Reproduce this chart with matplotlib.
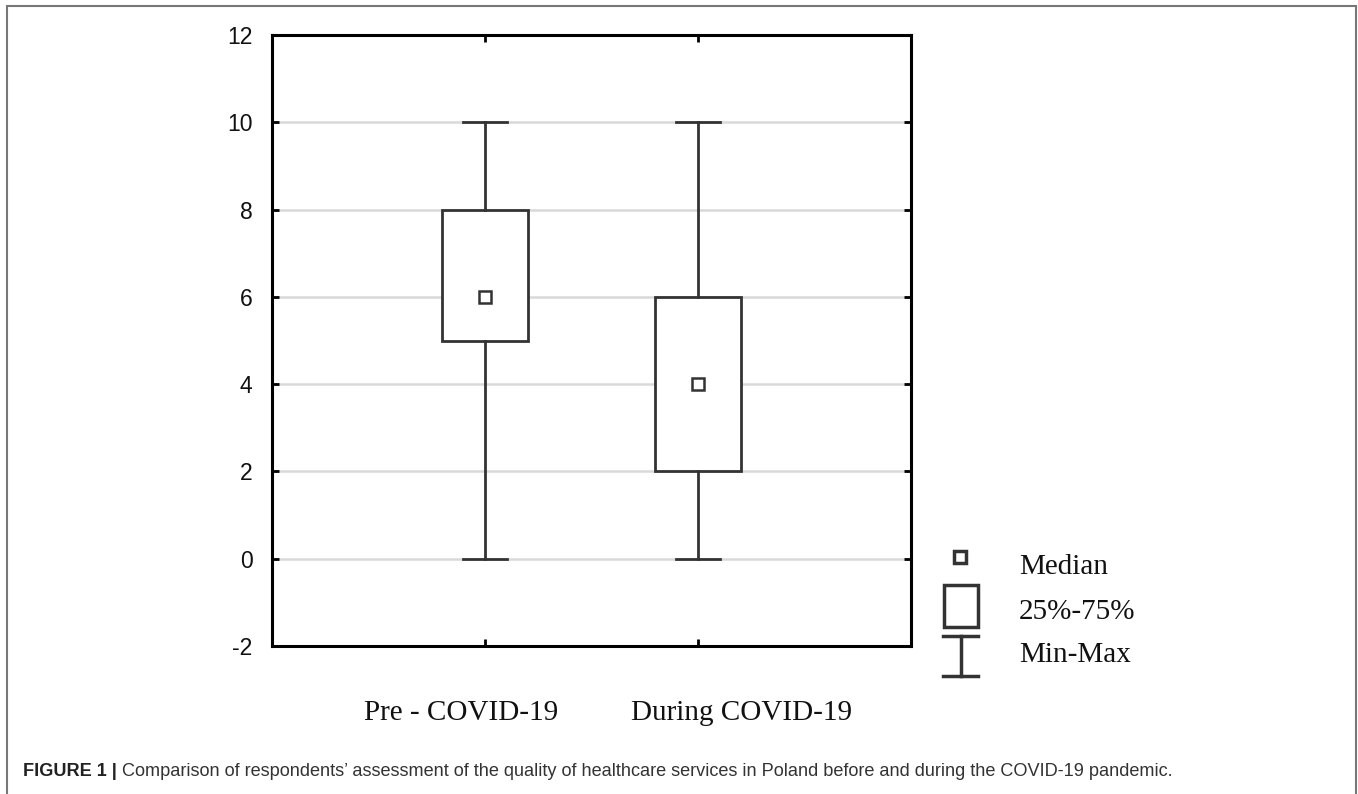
import matplotlib
matplotlib.use('Agg')
import matplotlib.pyplot as plt
from matplotlib.patches import Rectangle
from matplotlib.lines import Line2D

# ── Data ──────────────────────────────────────────────────────────────────────
groups = ['Pre - COVID-19', 'During COVID-19']
medians = [6, 4]
q1 = [5, 2]
q3 = [8, 6]
mins = [0, 0]
maxs = [10, 10]
yticks = [-2, 0, 2, 4, 6, 8, 10, 12]
legend_labels = ['Median', '25%-75%', 'Min-Max']
caption_bold = 'FIGURE 1 |'
caption_rest = (' Comparison of respondents\u2019 assessment of the quality of healthcare '
                'services in Poland before and during the COVID-19 pandemic.')

W, H = 1358, 794
fig = plt.figure(figsize=(W / 100, H / 100), dpi=100)

line_c = '#333333'

# ── Main box plot ─────────────────────────────────────────────────────────────
ax = fig.add_axes([272 / W, 1 - 646 / H, (911 - 272) / W, (646 - 35) / H])
positions = list(range(1, len(groups) + 1))
stats = [dict(med=m, q1=a, q3=b, whislo=lo, whishi=hi, fliers=[], label=g)
         for g, m, a, b, lo, hi in zip(groups, medians, q1, q3, mins, maxs)]
bp = ax.bxp(stats, positions=positions, widths=0.405, capwidths=0.21,
            patch_artist=True, showfliers=False,
            boxprops=dict(facecolor='white', edgecolor=line_c, linewidth=2),
            whiskerprops=dict(color=line_c, linewidth=2),
            capprops=dict(color=line_c, linewidth=2),
            medianprops=dict(linewidth=0), zorder=3)
ax.plot(positions, medians, linestyle='none', marker='s', markersize=8.5,
        markerfacecolor='white', markeredgecolor=line_c, markeredgewidth=1.8,
        zorder=4)

ax.set_xlim(0, 3)
ax.set_ylim(-2, 12)
ax.set_yticks(yticks)
ax.set_yticklabels([str(t) for t in yticks], fontsize=16.5,
                   fontfamily='Liberation Sans', color='#111111')
ax.set_xticks(positions)
ax.set_xticklabels([])
# category labels sit a little off-centre in the original figure
for x, g in zip([0.888, 2.204], groups):
    ax.text(x, -0.11, g, transform=ax.get_xaxis_transform(), fontsize=21,
            fontfamily='Liberation Serif', ha='center', va='center',
            color='#111111')
for t in yticks:
    if -2 < t < 12:
        ax.axhline(t, color='#d9d9d9', linewidth=1.8, zorder=1)
ax.tick_params(direction='in', length=5, width=2, top=True, right=True, color='black')
ax.tick_params(axis='y', pad=14)
for s in ax.spines.values():
    s.set_linewidth(2.2)
    s.set_color('black')

# ── Legend key ────────────────────────────────────────────────────────────────
lax = fig.add_axes([930 / W, 1 - 690 / H, 270 / W, 150 / H])
lax.set_xlim(930, 1200)
lax.set_ylim(690, 540)
lax.axis('off')
lax.add_patch(Rectangle((954, 551), 12, 12, facecolor='white', edgecolor=line_c,
                        linewidth=2.5))
lax.add_patch(Rectangle((944, 585), 34, 42, facecolor='white', edgecolor=line_c,
                        linewidth=2.5))
lax.add_line(Line2D([943, 978], [636, 636], color=line_c, linewidth=2.5))
lax.add_line(Line2D([943, 978], [676, 676], color=line_c, linewidth=2.5))
lax.add_line(Line2D([960.5, 960.5], [636, 676], color=line_c, linewidth=2.5))
for lbl, yy in zip(legend_labels, [567, 612, 655]):
    lax.text(1019, yy, lbl, fontsize=21, fontfamily='Liberation Serif',
             va='center', ha='left', color='#111111')

# ── Frame and caption ─────────────────────────────────────────────────────────
fig.patches.append(Rectangle((7 / W, -0.05), (1356 - 7) / W, 1.05 - 6 / H,
                             transform=fig.transFigure, fill=False,
                             edgecolor='#777777', linewidth=1.5))

cap_y = 1 - 772 / H
cap_size = 13
tb = fig.text(23 / W, cap_y, caption_bold, fontsize=cap_size, fontweight='bold',
              fontfamily='Liberation Sans', va='center', color='#222222')
tr = fig.text(0, cap_y, caption_rest, fontsize=cap_size,
              fontfamily='Liberation Sans', va='center', color='#333333')
fig.canvas.draw()
total = tb.get_window_extent().width + tr.get_window_extent().width
cap_size = cap_size * (1170 - 23) / total
tb.set_fontsize(cap_size)
tr.set_fontsize(cap_size)
fig.canvas.draw()
tr.set_x(tb.get_window_extent().x1 / W)

fig.savefig('out.png', dpi=100)
